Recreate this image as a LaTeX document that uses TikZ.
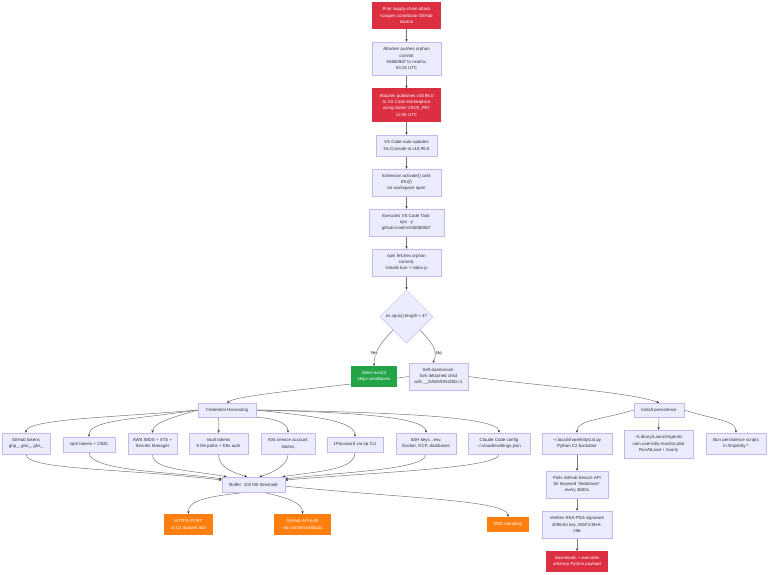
\documentclass[tikz,border=0pt]{standalone}
\usepackage{fontspec}
\setmainfont{Liberation Sans}
\usetikzlibrary{arrows.meta,shapes.geometric,backgrounds}
\definecolor{lav}{HTML}{ECECFF}
\definecolor{lavline}{HTML}{C4B8EC}
\definecolor{redbox}{HTML}{DC2F41}
\definecolor{greenbox}{HTML}{22A447}
\definecolor{orangebox}{HTML}{FF7F0E}
\definecolor{inkc}{HTML}{333333}
\definecolor{linec}{HTML}{777777}
\tikzset{
  x=1pt,y=-1pt,
  base/.style={rectangle,inner sep=0pt,align=center,font=\fontsize{4.4}{6.3}\selectfont},
  lavbox/.style={base,fill=lav,draw=lavline,line width=.5pt,text=inkc},
  redn/.style={base,fill=redbox,text=white},
  greenn/.style={base,fill=greenbox,text=white},
  orangen/.style={base,fill=orangebox,text=white},
  decision/.style={diamond,aspect=1,inner sep=0pt,fill=lav,draw=lavline,line width=.5pt,text=inkc,font=\fontsize{4.4}{6.3}\selectfont},
  conn/.style={draw=linec,line width=.5pt,-{Stealth[length=2.6pt,width=2.4pt,color=inkc]}},
  edgelabel/.style={fill=black!8,inner sep=.6pt,text=inkc,font=\fontsize{4.2}{5}\selectfont},
  wh/.style 2 args={minimum width=#1pt,minimum height=#2pt},
}
\begin{document}
\begin{tikzpicture}
\useasboundingbox (0,0) rectangle (768,574);
% main column
\node[redn,wh={69}{27}] (n1) at (406.5,15.5) {Prior supply chain attack\\scrapes contributor GitHub\\tokens};
\node[lavbox,wh={69}{33.5}] (n2) at (406.5,58.7) {Attacker pushes orphan\\commit\\558b09d7 to nrwl/nx\\03:18 UTC};
\node[redn,wh={69}{33.5}] (n3) at (406.5,105.2) {Attacker publishes v18.95.0\\to VS Code Marketplace\\using stolen VSCE\_PAT\\12:36 UTC};
\node[lavbox,wh={61}{21}] (n4) at (406.5,145.5) {VS Code auto-updates\\Nx Console to v18.95.0};
\node[lavbox,wh={69}{27}] (n5) at (406.5,182.5) {Extension activate() calls\\Efn(t)\\on workspace open};
\node[lavbox,wh={75}{27}] (n6) at (406.5,222.5) {Executes VS Code Task:\\npx \ -y\\github:nrwl/nx\#558b09d7};
\node[lavbox,wh={69}{27}] (n7) at (406.5,262.5) {npm fetches orphan\\commit,\\installs bun + index.js};
\node[decision,minimum width=53pt,minimum height=53pt] (dec) at (406.5,316.5) {os.cpus().length < 4?};
\node[greenn,wh={46}{21}] (exit) at (374,376.5) {Silent exit(0)\\skips sandboxes};
\node[lavbox,wh={59}{27}] (self) at (438.5,376.5) {Self-daemonize:\\fork detached child\\with \_\_DAEMONIZED=1};
% harvesting
\node[lavbox,wh={58}{14}] (cred) at (227,410) {Credential Harvesting};
\node[lavbox,wh={48}{21}] (gh) at (26,443.5) {GitHub tokens\\ghp\_, gho\_, ghs\_};
\node[lavbox,wh={52}{15}] (npm) at (89,444.5) {npm tokens + OIDC};
\node[lavbox,wh={49}{21}] (aws) at (152.5,443.5) {AWS IMDS + STS +\\Secrets Manager};
\node[lavbox,wh={59}{21}] (vault) at (218.5,443.5) {Vault tokens\\8 file paths + K8s auth};
\node[lavbox,wh={54}{21}] (k8s) at (288,443.5) {K8s service account\\tokens};
\node[lavbox,wh={56}{15}] (onep) at (355,444.5) {1Password via op CLI};
\node[lavbox,wh={60}{21}] (ssh) at (426,443.5) {SSH keys, .env,\\Docker, GCP, databases};
\node[lavbox,wh={62}{21}] (claude) at (499,443.5) {Claude Code config\\\textasciitilde/.claude/settings.json};
% persistence
\node[lavbox,wh={50}{14}] (inst) at (659,410) {Install persistence};
\node[lavbox,wh={70}{21}] (cat) at (577,443.5) {\textasciitilde/.local/share/kitty/cat.py\\Python C2 backdoor};
\node[lavbox,wh={69}{28}] (launch) at (658.5,444) {\textasciitilde/Library/LaunchAgents/\\com.user.kitty-monitor.plist\\RunAtLoad + hourly};
\node[lavbox,wh={60}{21}] (bunp) at (736,443.5) {Bun persistence scripts\\in /tmp/kitty-*};
\node[lavbox,wh={62}{27}] (poll) at (577,484.5) {Polls GitHub Search API\\for keyword 'firedalazer'\\every 3600s};
\node[lavbox,wh={70}{27}] (verify) at (577,524.5) {Verifies RSA-PSS signature\\4096-bit key, MGF1/SHA-\\256};
\node[redn,wh={62}{21}] (down) at (577,561.5) {Downloads + executes\\arbitrary Python payload};
% exfil
\node[lavbox,wh={63}{15}] (buf) at (253.5,484.5) {Buffer: 102 KB threshold};
\node[orangen,wh={49}{21}] (https) at (188.5,524.5) {HTTPS POST\\to C2 domain:443};
\node[orangen,wh={57}{21}] (ghapi) at (302.5,524.5) {GitHub API exfil\\via commits/artifacts};
\node[orangen,wh={42}{15}] (dns) at (508,524.5) {DNS tunneling};
% edge labels
\node[edgelabel] (yes) at (374,353) {Yes};
\node[edgelabel] (no) at (439,353) {No};
\begin{pgfonlayer}{background}
\draw[conn] (n1) -- (n2);
\draw[conn] (n2) -- (n3);
\draw[conn] (n3) -- (n4);
\draw[conn] (n4) -- (n5);
\draw[conn] (n5) -- (n6);
\draw[conn] (n6) -- (n7);
\draw[conn] (n7) -- (dec);
% decision
\draw[conn] (dec.225) .. controls (382,342) and (374,350) .. (exit.north);
\draw[conn] (dec.-45) .. controls (431,342) and (439,350) .. (self.112);
% self
\draw[conn] (self.west) .. controls (330,388) and (240,394) .. (cred.north);
\draw[conn] (self.east) .. controls (540,386) and (630,392) .. (inst.north);
% harvesting out
\draw[conn] (cred.west) .. controls (120,417) and (26,419) .. (gh.north);
\draw[conn] (cred.west) .. controls (130,420) and (89,420) .. (npm.north);
\draw[conn] (cred.west) .. controls (170,418) and (153,423) .. (aws.north);
\draw[conn] (cred.-140) .. controls (219,421) and (219,425) .. (vault.north);
\draw[conn] (cred.-15) .. controls (275,418) and (288,423) .. (k8s.north);
\draw[conn] (cred.east) .. controls (310,416) and (355,420) .. (onep.north);
\draw[conn] (cred.east) .. controls (340,412) and (426,416) .. (ssh.north);
\draw[conn] (cred.east) .. controls (380,412) and (499,416) .. (claude.north);
% harvesting in
\draw[conn] (gh.south) .. controls (26,470) and (120,468) .. (buf.172);
\draw[conn] (npm.south) .. controls (89,472) and (180,472) .. (buf.170);
\draw[conn] (aws.south) .. controls (152,470) and (190,470) .. (buf.164);
\draw[conn] (vault.south) .. controls (219,466) and (228,471) .. (buf.130);
\draw[conn] (k8s.south) .. controls (288,463) and (278,471) .. (buf.52);
\draw[conn] (onep.south) .. controls (355,470) and (320,471) .. (buf.15);
\draw[conn] (ssh.south) .. controls (426,470) and (340,472) .. (buf.10);
\draw[conn] (claude.south) .. controls (499,468) and (380,472) .. (buf.8);
% persistence
\draw[conn] (inst.west) .. controls (600,420) and (577,420) .. (cat.north);
\draw[conn] (inst.south) -- (launch.north);
\draw[conn] (inst.east) .. controls (715,420) and (736,420) .. (bunp.north);
\draw[conn] (cat) -- (poll);
\draw[conn] (poll) -- (verify);
\draw[conn] (verify) -- (down);
% exfil
\draw[conn] (buf.-130) .. controls (200,497) and (188,502) .. (https.north);
\draw[conn] (buf.-40) .. controls (290,498) and (303,504) .. (ghapi.north);
\draw[conn] (buf.-3) .. controls (400,498) and (508,500) .. (dns.north);
\end{pgfonlayer}
\end{tikzpicture}
\end{document}
